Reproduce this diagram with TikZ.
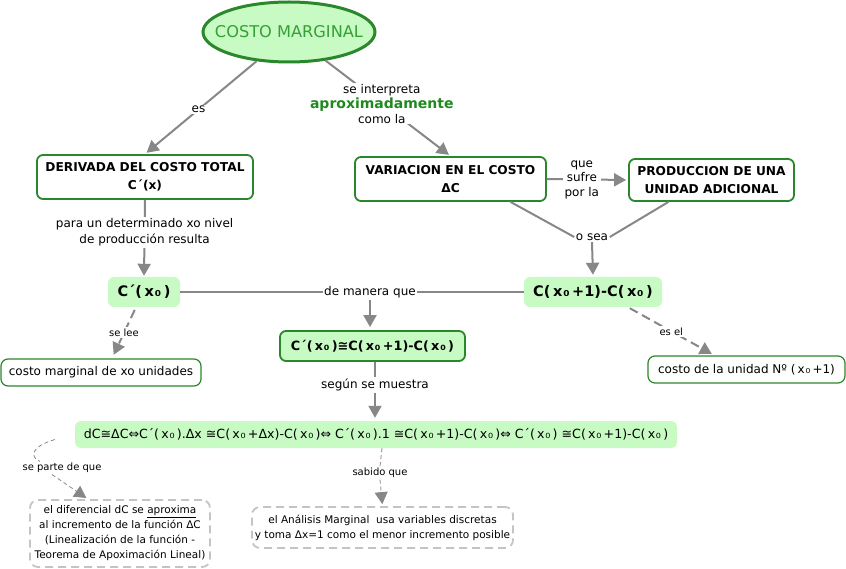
\documentclass[tikz,border=0pt]{standalone}
\usepackage{fontspec}
\setmainfont{DejaVu Sans}
\usetikzlibrary{shapes.geometric,arrows.meta,calc}
\definecolor{cmfill}{HTML}{C8FAC4}
\definecolor{cmgreen}{HTML}{2B872B}
\definecolor{cmtext}{HTML}{35A035}
\definecolor{cmbold}{HTML}{1E8A1E}
\definecolor{cmgray}{HTML}{878787}
\definecolor{cmdash}{HTML}{C4C4C4}
\newcommand{\fsz}[1]{\fontsize{#1}{#1}\selectfont}
\newcommand{\xz}{\hspace{0.18em}x\hspace{0.06em}₀\hspace{0.18em}}
\begin{document}
\begin{tikzpicture}[x=1pt,y=-1pt,
  boxw/.style={draw=cmgreen, line width=1.8pt, rounded corners=6pt, fill=white, align=center,
    font=\fontsize{12.2}{18}\selectfont\bfseries, inner sep=0pt},
  pill/.style={fill=cmfill, rounded corners=6pt, align=center, inner sep=0pt,
    font=\fsz{14.5}\bfseries},
  leaf/.style={draw=cmgreen, line width=1.2pt, rounded corners=7pt, fill=white,
    font=\fsz{12}, inner sep=0pt},
  dbox/.style={draw=cmdash, line width=1.8pt, dash pattern=on 8pt off 5pt, rounded corners=8pt,
    fill=white, align=center, font=\fontsize{10.5}{15}\selectfont, inner sep=0pt},
  lbl/.style={fill=white, inner sep=1.5pt, align=center, font=\fontsize{12}{16}\selectfont},
  slbl/.style={fill=white, inner sep=1.5pt, align=center, font=\fsz{10}},
  conn/.style={draw=cmgray, line width=2pt},
  arr/.style={conn, -{Triangle[length=12pt,width=13pt]}},
  tarr/.style={draw=cmgray, line width=0.8pt, dash pattern=on 4pt off 3pt, -{Triangle[length=12pt,width=13pt]}},
  darr/.style={draw=cmgray, line width=2pt, dash pattern=on 9pt off 5pt, -{Triangle[length=12pt,width=13pt]}}
]
\useasboundingbox (0,0) rectangle (846,569);

% nodes
\node[ellipse, draw=cmgreen, line width=3pt, fill=cmfill, minimum width=172pt, minimum height=60pt,
  inner sep=0pt] (cm) at (289,32) {};
\node[inner sep=0pt, text=cmtext, font=\fsz{16.2}] (cmt) at (cm.center) {COSTO MARGINAL};

\node[boxw, minimum width=216pt, minimum height=44pt] (der) at (145,177)
  {DERIVADA DEL COSTO TOTAL\\C´(x)};
\node[boxw, minimum width=191pt, minimum height=44pt] (var) at (450.5,179)
  {VARIACION EN EL COSTO\\ΔC};
\node[boxw, minimum width=165pt, minimum height=42pt] (prod) at (711.5,180)
  {PRODUCCION DE UNA\\UNIDAD ADICIONAL};

\node[pill, minimum width=72pt, minimum height=30pt] (cp) at (144,292) {C´(\xz)};
\node[pill, minimum width=138pt, minimum height=30pt] (cx) at (593,292) {C(\xz+1)-C(\xz)};
\node[pill, draw=cmgreen, line width=1.8pt, minimum width=185pt, minimum height=30pt,
  font=\fsz{12.8}\bfseries] (mid) at (372.5,346) {C´(\xz)≅C(\xz+1)-C(\xz)};
\node[pill, minimum width=602pt, minimum height=27pt, font=\fsz{12.6}] (form) at (376,434.5)
  {dC≅ΔC⇔C´(\xz).Δx ≅C(\xz+Δx)-C(\xz)⇔ C´(\xz).1 ≅C(\xz+1)-C(\xz)⇔ C´(\xz) ≅C(\xz+1)-C(\xz)};

\node[leaf, minimum width=200pt, minimum height=27pt] (cmx) at (101,372.5) {costo marginal de xo unidades};
\node[leaf, minimum width=197pt, minimum height=27pt] (cu) at (746.5,369.5) {costo de la unidad Nº (\xz+1)};

\node[dbox, minimum width=180pt, minimum height=67pt] (d1) at (120,533.5)
  {el diferencial dC se \underline{aproxima}\\al incremento de la función ΔC\\(Linealización de la función -\\Teorema de Apoximación Lineal)};
\node[dbox, minimum width=261pt, minimum height=41pt] (d2) at (382.5,527.5)
  {el Análisis Marginal\ \ usa variables discretas\\y toma Δx=1 como el menor incremento posible};

% labels
\node[lbl] (dem) at (370,292) {de manera que};
\node[lbl] (osea) at (592,237) {o sea};
\node[lbl] (segun) at (375,385) {según se muestra};
\node[slbl] (sep) at (62,468) {se parte de que};
\node[slbl] (sab) at (380,473) {sabido que};

% connectors
\draw[arr, shorten >=2pt] (cm.222) -- node[lbl, pos=0.52] {es} (der.north);
\draw[arr, shorten >=2pt] (cm.-38) -- node[lbl, pos=0.45, inner sep=0.5pt, font=\fontsize{12}{15}\selectfont]
  {se interpreta\\{\fsz{14}\bfseries\color{cmbold}aproximadamente}\\como la} (var.north);
\draw[arr, shorten >=1pt] (der.south) -- node[lbl, pos=0.42] {para un determinado xo nivel\\de producción resulta} (cp.north);
\draw[conn] (cp.east) -- (dem.west);
\draw[conn] (dem.east) -- (cx.west);
\draw[arr, shorten >=3pt] (dem.south) -- ([xshift=-2.5pt]mid.north);
\draw[arr, shorten >=2pt] (var.east) -- node[lbl, pos=0.43, font=\fontsize{12}{14.5}\selectfont] {que\\sufre\\por la} (prod.west);
\draw[conn] ([xshift=60pt]var.south) -- (osea.west);
\draw[conn] ([xshift=-43pt]prod.south) -- (osea.east);
\draw[arr, shorten >=2pt] (osea.south) -- (cx.north);
\draw[darr, shorten <=3pt, shorten >=4pt] ([xshift=-8pt]cp.south) -- node[slbl] {se lee} ([xshift=11pt]cmx.north);
\draw[darr, shorten <=2pt, shorten >=3pt] ([xshift=35pt]cx.south) -- node[slbl] {es el} ([xshift=-32pt]cu.north);
\draw[conn] ([xshift=2.5pt]mid.south) -- (segun.north);
\draw[arr, shorten >=3pt] (segun.south) -- ([xshift=-1pt]form.north);
\draw[draw=cmgray, line width=0.8pt, dash pattern=on 4pt off 3pt]
  ([xshift=-20pt,yshift=-5pt]form.west) .. controls (30,447) and (30,457) .. ([xshift=-22pt]sep.north);
\draw[tarr, shorten >=2pt] ([xshift=-10pt]sep.south) -- ([xshift=-32pt]d1.north);
\draw[draw=cmgray, line width=0.8pt, dash pattern=on 4pt off 3pt] ([xshift=6pt]form.south) -- (sab.north);
\draw[tarr, shorten >=2pt] (sab.south) -- (d2.north);
\end{tikzpicture}
\end{document}
